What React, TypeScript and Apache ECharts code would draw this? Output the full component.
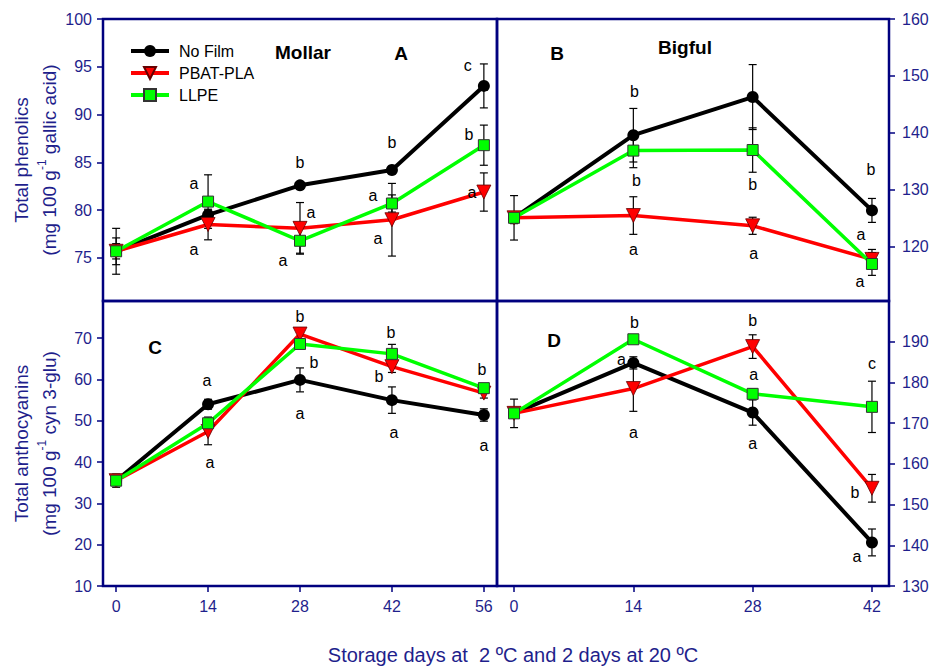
import React, { useEffect, useRef } from 'react';
import * as echarts from 'echarts';

// ---------- data ----------
const daysMollar = [0, 14, 28, 42, 56];
const daysBigful = [0, 14, 28, 42];
const seriesNames = ['No Film', 'PBAT-PLA', 'LLPE'];

const phenolTicksA = [75, 80, 85, 90, 95, 100];
const phenolTicksB = [120, 130, 140, 150, 160];
const anthoTicksC = [10, 20, 30, 40, 50, 60, 70];
const anthoTicksD = [130, 140, 150, 160, 170, 180, 190];

// Panel A - Mollar, total phenolics
const phenolMollarNoFilm = [75.7, 79.5, 82.6, 84.2, 93.0];
const phenolMollarNoFilmErr = [1.4, 0.5, 0.4, 0.4, 2.3];
const phenolMollarPbat = [75.7, 78.5, 78.1, 79.0, 81.9];
const phenolMollarPbatErr = [0.8, 1.6, 2.7, 3.8, 2.0];
const phenolMollarLlpe = [75.7, 80.9, 76.8, 80.7, 86.8];
const phenolMollarLlpeErr = [2.4, 2.8, 1.3, 0.9, 2.1];
const phenolMollarNoFilmLetters = ['', '', 'b', 'b', 'c'];
const phenolMollarPbatLetters = ['', 'a', 'a', 'a', 'a'];
const phenolMollarLlpeLetters = ['', 'a', 'a', 'a', 'b'];

// Panel B - Bigful, total phenolics
const phenolBigfulNoFilm = [125.1, 139.6, 146.3, 126.4];
const phenolBigfulNoFilmErr = [1.0, 4.7, 5.7, 2.1];
const phenolBigfulPbat = [125.1, 125.5, 123.7, 117.8];
const phenolBigfulPbatErr = [1.0, 3.3, 1.5, 1.75];
const phenolBigfulLlpe = [125.1, 136.9, 137.0, 117.0];
const phenolBigfulLlpeErr = [3.9, 3.0, 3.9, 2.0];
const phenolBigfulNoFilmLetters = ['', 'b', '', 'b'];
const phenolBigfulPbatLetters = ['', 'a', 'a', 'a'];
const phenolBigfulLlpeLetters = ['', 'b', 'b', 'a'];

// Panel C - Mollar, total anthocyanins
const anthoMollarNoFilm = [35.5, 54.0, 59.9, 55.0, 51.4];
const anthoMollarNoFilmErr = [1.6, 1.2, 2.9, 3.2, 1.5];
const anthoMollarPbat = [35.5, 47.4, 71.0, 63.1, 56.7];
const anthoMollarPbatErr = [1.0, 3.2, 1.2, 1.4, 1.2];
const anthoMollarLlpe = [35.5, 49.4, 68.6, 66.2, 57.9];
const anthoMollarLlpeErr = [1.0, 1.5, 1.0, 2.3, 1.0];
const anthoMollarNoFilmLetters = ['', 'a', 'a', 'a', 'a'];
const anthoMollarPbatLetters = ['', 'a', 'b', 'b', ''];
const anthoMollarLlpeLetters = ['', '', 'b', 'b', 'b'];

// Panel D - Bigful, total anthocyanins
const anthoBigfulNoFilm = [172.4, 184.8, 172.6, 140.7];
const anthoBigfulNoFilmErr = [1.0, 1.5, 3.1, 3.3];
const anthoBigfulPbat = [172.4, 178.5, 188.8, 154.0];
const anthoBigfulPbatErr = [1.0, 5.6, 2.9, 3.4];
const anthoBigfulLlpe = [172.4, 190.6, 177.2, 174.0];
const anthoBigfulLlpeErr = [3.5, 0.8, 1.2, 6.3];
const anthoBigfulNoFilmLetters = ['', 'a', 'a', 'a'];
const anthoBigfulPbatLetters = ['', 'a', 'b', 'b'];
const anthoBigfulLlpeLetters = ['', 'b', 'a', 'c'];

// ---------- layout (pixel offsets of letters from their points) ----------
const offA = [
  [[0, 0], [0, 0], [0, -23], [0, -28], [-16, -20]],
  [[0, 0], [-14, 25], [11, -16], [-14, 19], [-12, 0]],
  [[0, 0], [-14, -18], [-17, 20], [-19, -8], [-15, -11]],
];
const offB = [
  [[0, 0], [1, -44], [0, 0], [-1, -41]],
  [[0, 0], [0, 34], [1, 28], [-11, -25]],
  [[0, 0], [3, 30], [0, 34], [-12, 18]],
];
const offC = [
  [[0, 0], [-1, -24], [0, 34], [2, 32], [0, 30]],
  [[0, 0], [2, 31], [0, -18], [-13, 10], [0, 0]],
  [[0, 0], [0, 0], [14, 19], [-1, -21], [-2, -19]],
];
const offD = [
  [[0, 0], [-12, -3], [0, 31], [-15, 14]],
  [[0, 0], [0, 44], [0, -26], [-17, 4]],
  [[0, 0], [1, -17], [1, -19], [0, -43]],
];

const FONT = 'Arial, "Liberation Sans", sans-serif';
const NAVY_TEXT = '#1f1f8c';
const NAVY_LINE = '#00007f';

const styles = [
  { color: '#000000', symbol: 'circle', size: 12, rotate: 0, border: '#000000', bw: 0, lw: 4 },
  { color: '#ff0000', symbol: 'triangle', size: 14, rotate: 180, border: '#660000', bw: 0.8, lw: 3.5 },
  { color: '#00ff00', symbol: 'rect', size: 11, rotate: 0, border: '#333333', bw: 1, lw: 3.5 },
];

function errorSeries(idx: number, days: number[], vals: number[], errs: number[]) {
  return {
    type: 'custom',
    name: 'err' + idx,
    xAxisIndex: idx,
    yAxisIndex: idx,
    z: 2,
    silent: true,
    data: days.map((d, i) => [d, vals[i] - errs[i], vals[i] + errs[i]]),
    renderItem: (params: any, api: any) => {
      const x = api.value(0);
      const top = api.coord([x, api.value(2)]);
      const bot = api.coord([x, api.value(1)]);
      const w = 4;
      const st = { stroke: '#000', lineWidth: 1.2 };
      return {
        type: 'group',
        children: [
          { type: 'line', shape: { x1: top[0], y1: top[1], x2: bot[0], y2: bot[1] }, style: st },
          { type: 'line', shape: { x1: top[0] - w, y1: top[1], x2: top[0] + w, y2: top[1] }, style: st },
          { type: 'line', shape: { x1: bot[0] - w, y1: bot[1], x2: bot[0] + w, y2: bot[1] }, style: st },
        ],
      };
    },
  };
}

function lineSeries(idx: number, s: number, days: number[], vals: number[], letters: string[], offs: number[][]) {
  const st = styles[s];
  return {
    type: 'line',
    name: seriesNames[s],
    xAxisIndex: idx,
    yAxisIndex: idx,
    z: 3 + s,
    symbol: st.symbol,
    symbolSize: st.size,
    symbolRotate: st.rotate,
    lineStyle: { color: st.color, width: st.lw },
    itemStyle: { color: st.color, borderColor: st.border, borderWidth: st.bw },
    label: { show: false, position: 'inside', color: '#000', fontSize: 16, fontFamily: FONT },
    emphasis: { disabled: true },
    data: days.map((d, i) => {
      const item: any = { value: [d, vals[i]] };
      if (letters[i]) {
        item.label = { show: true, formatter: letters[i], position: 'inside', offset: offs[i], color: '#000', fontSize: 16, fontFamily: FONT };
      }
      return item;
    }),
  };
}

function yName(line1: string, pre: string, post: string) {
  return '{t|' + line1 + '}\n{t|' + pre + '}{s|-1}{t|' + post + '}';
}
const yNameStyle = {
  color: NAVY_TEXT,
  rich: {
    t: { fontSize: 19, lineHeight: 28, fontFamily: FONT, color: NAVY_TEXT },
    s: { fontSize: 12, lineHeight: 12, padding: [0, 0, 14, 0], fontFamily: FONT, color: NAVY_TEXT },
  },
};

export default function App() {
  const ref = useRef<HTMLDivElement>(null);
  useEffect(() => {
    if (!ref.current) return;
    const chart = echarts.init(ref.current, undefined, { renderer: 'svg' });
    const gridBase = { show: true, borderColor: NAVY_LINE, borderWidth: 2.5, backgroundColor: 'transparent', containLabel: false, outerBoundsMode: 'none' };
    const hiddenX = (i: number, max: number) => ({
      type: 'value', gridIndex: i, min: -2, max,
      axisLine: { show: false, onZero: false }, axisTick: { show: false }, axisLabel: { show: false }, splitLine: { show: false },
    });
    const shownX = (i: number, max: number, vals: number[]) => ({
      type: 'value', gridIndex: i, min: -2, max,
      axisLine: { show: false, onZero: false },
      axisTick: { show: true, inside: false, length: 6, customValues: vals, lineStyle: { color: NAVY_LINE, width: 1.5 } },
      axisLabel: { show: true, margin: 12, customValues: vals, color: NAVY_TEXT, fontSize: 16, fontFamily: FONT },
      splitLine: { show: false },
    });
    const yAx = (i: number, pos: string, min: number, max: number, vals: number[], extra: any = {}) => ({
      type: 'value', gridIndex: i, position: pos, min, max,
      axisLine: { show: false, onZero: false },
      axisTick: { show: true, inside: false, length: 6, customValues: vals, lineStyle: { color: NAVY_LINE, width: 1.5 } },
      axisLabel: { show: true, margin: pos === 'left' ? 11 : 13, customValues: vals, color: NAVY_TEXT, fontSize: 16, fontFamily: FONT },
      splitLine: { show: false },
      ...extra,
    });

    const option: any = {
      animation: false,
      textStyle: { fontFamily: FONT },
      title: {
        text: 'Storage days at  2 ºC and 2 days at 20 ºC',
        left: 508, top: 640, textAlign: 'center',
        textStyle: { color: NAVY_TEXT, fontSize: 20, fontWeight: 'normal', fontFamily: FONT },
      },
      legend: {
        data: seriesNames,
        orient: 'vertical',
        left: 124, top: 38,
        itemWidth: 38, itemHeight: 15, itemGap: 6,
        selectedMode: false,
        lineStyle: { width: 4 },
        textStyle: { color: '#000', fontSize: 16, fontFamily: FONT, padding: [0, 0, 0, 5] },
      },
      grid: [
        { ...gridBase, left: 103, top: 19, width: 394, height: 282 },
        { ...gridBase, left: 497, top: 19, width: 392, height: 282 },
        { ...gridBase, left: 103, top: 301, width: 394, height: 285 },
        { ...gridBase, left: 497, top: 301, width: 392, height: 285 },
      ],
      xAxis: [
        hiddenX(0, 58),
        hiddenX(1, 44),
        shownX(2, 58, daysMollar),
        shownX(3, 44, daysBigful),
      ],
      yAxis: [
        yAx(0, 'left', 70.5, 100, phenolTicksA, {
          name: yName('Total phenolics', '(mg 100 g', ' gallic acid)'),
          nameLocation: 'middle', nameRotate: 90, nameGap: 40, nameMoveOverlap: false, nameTextStyle: yNameStyle,
        }),
        yAx(1, 'right', 110.5, 160, phenolTicksB),
        yAx(2, 'left', 10, 79, anthoTicksC, {
          name: yName('Total anthocyanins', '(mg 100 g', ' cyn 3-glu)'),
          nameLocation: 'middle', nameRotate: 90, nameGap: 40, nameMoveOverlap: false, nameTextStyle: yNameStyle,
        }),
        yAx(3, 'right', 130, 200, anthoTicksD),
      ],
      graphic: [
        { type: 'text', x: 303, y: 52, style: { text: 'Mollar', fontSize: 19, fontWeight: 'bold', fontFamily: FONT, fill: '#000', align: 'center', verticalAlign: 'middle', textAlign: 'center', textVerticalAlign: 'middle' } },
        { type: 'text', x: 401, y: 53, style: { text: 'A', fontSize: 19, fontWeight: 'bold', fontFamily: FONT, fill: '#000', align: 'center', verticalAlign: 'middle', textAlign: 'center', textVerticalAlign: 'middle' } },
        { type: 'text', x: 557, y: 53, style: { text: 'B', fontSize: 19, fontWeight: 'bold', fontFamily: FONT, fill: '#000', align: 'center', verticalAlign: 'middle', textAlign: 'center', textVerticalAlign: 'middle' } },
        { type: 'text', x: 685, y: 47, style: { text: 'Bigful', fontSize: 19, fontWeight: 'bold', fontFamily: FONT, fill: '#000', align: 'center', verticalAlign: 'middle', textAlign: 'center', textVerticalAlign: 'middle' } },
        { type: 'text', x: 155, y: 347, style: { text: 'C', fontSize: 19, fontWeight: 'bold', fontFamily: FONT, fill: '#000', align: 'center', verticalAlign: 'middle', textAlign: 'center', textVerticalAlign: 'middle' } },
        { type: 'text', x: 554, y: 340, style: { text: 'D', fontSize: 19, fontWeight: 'bold', fontFamily: FONT, fill: '#000', align: 'center', verticalAlign: 'middle', textAlign: 'center', textVerticalAlign: 'middle' } },
      ],
      series: [
        errorSeries(0, daysMollar, phenolMollarNoFilm, phenolMollarNoFilmErr),
        errorSeries(0, daysMollar, phenolMollarPbat, phenolMollarPbatErr),
        errorSeries(0, daysMollar, phenolMollarLlpe, phenolMollarLlpeErr),
        lineSeries(0, 0, daysMollar, phenolMollarNoFilm, phenolMollarNoFilmLetters, offA[0]),
        lineSeries(0, 1, daysMollar, phenolMollarPbat, phenolMollarPbatLetters, offA[1]),
        lineSeries(0, 2, daysMollar, phenolMollarLlpe, phenolMollarLlpeLetters, offA[2]),

        errorSeries(1, daysBigful, phenolBigfulNoFilm, phenolBigfulNoFilmErr),
        errorSeries(1, daysBigful, phenolBigfulPbat, phenolBigfulPbatErr),
        errorSeries(1, daysBigful, phenolBigfulLlpe, phenolBigfulLlpeErr),
        lineSeries(1, 0, daysBigful, phenolBigfulNoFilm, phenolBigfulNoFilmLetters, offB[0]),
        lineSeries(1, 1, daysBigful, phenolBigfulPbat, phenolBigfulPbatLetters, offB[1]),
        lineSeries(1, 2, daysBigful, phenolBigfulLlpe, phenolBigfulLlpeLetters, offB[2]),

        errorSeries(2, daysMollar, anthoMollarNoFilm, anthoMollarNoFilmErr),
        errorSeries(2, daysMollar, anthoMollarPbat, anthoMollarPbatErr),
        errorSeries(2, daysMollar, anthoMollarLlpe, anthoMollarLlpeErr),
        lineSeries(2, 0, daysMollar, anthoMollarNoFilm, anthoMollarNoFilmLetters, offC[0]),
        lineSeries(2, 1, daysMollar, anthoMollarPbat, anthoMollarPbatLetters, offC[1]),
        lineSeries(2, 2, daysMollar, anthoMollarLlpe, anthoMollarLlpeLetters, offC[2]),

        errorSeries(3, daysBigful, anthoBigfulNoFilm, anthoBigfulNoFilmErr),
        errorSeries(3, daysBigful, anthoBigfulPbat, anthoBigfulPbatErr),
        errorSeries(3, daysBigful, anthoBigfulLlpe, anthoBigfulLlpeErr),
        lineSeries(3, 0, daysBigful, anthoBigfulNoFilm, anthoBigfulNoFilmLetters, offD[0]),
        lineSeries(3, 1, daysBigful, anthoBigfulPbat, anthoBigfulPbatLetters, offD[1]),
        lineSeries(3, 2, daysBigful, anthoBigfulLlpe, anthoBigfulLlpeLetters, offD[2]),
      ],
    };
    chart.setOption(option);
    return () => chart.dispose();
  }, []);
  return <div ref={ref} style={{ position: 'fixed', left: 0, top: 0, width: 931, height: 666, background: '#fff' }} />;
}
